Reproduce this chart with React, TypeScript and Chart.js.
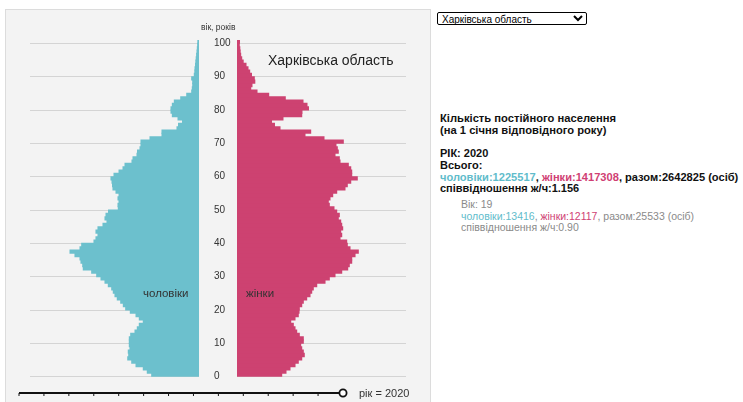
import React, { useEffect, useRef } from "react";
import { Chart, registerables } from "chart.js";

Chart.register(...registerables);

// ---------- data ----------
const AGES: number[] = Array.from({ length: 101 }, (_, i) => i);
const AGE_TICKS = [0, 10, 20, 30, 40, 50, 60, 70, 80, 90, 100];
const X_MAX = 33000;

// persons by single year of age, 0..100 (Kharkiv oblast, 1 Jan 2020)
const MALE = [
  9240, 10100, 10880, 12300, 13140, 13920, 13730, 13810, 13480, 13610,
  13610, 13610, 13340, 12500, 12050, 11660, 10880, 11660, 12300, 13416,
  14320, 14780, 15290, 15960, 16410, 16740, 17050, 17710, 18360, 19140,
  19980, 20960, 22600, 22710, 23050, 23240, 24220, 25190, 23240, 22910,
  20510, 20120, 19730, 20120, 19730, 18750, 17970, 18360, 18160, 17670,
  15760, 15820, 15620, 15820, 15620, 16210, 16800, 16890, 16990, 17190,
  16600, 15620, 14840, 14450, 13090, 12890, 12110, 12010, 11520, 11330,
  11330, 9570, 7230, 7230, 4300, 4000, 3220, 4100, 5210, 5470,
  5470, 5210, 4820, 3570, 2400, 1430, 1310, 1230, 1230, 1430,
  920, 820, 780, 680, 620, 550, 470, 390, 330, 270,
  230,
];

const FEMALE = [
  8730, 9570, 10350, 11330, 11970, 12640, 13140, 12950, 12640, 12440,
  12950, 12950, 12170, 11660, 11330, 11000, 10490, 11330, 11970, 12117,
  12170, 12640, 12950, 13610, 14260, 14590, 14900, 15570, 17190, 18030,
  19140, 20450, 21620, 21930, 22400, 22400, 23050, 23690, 22070, 21540,
  21420, 20120, 20450, 20250, 20640, 20450, 20250, 19780, 19980, 19470,
  18940, 18030, 17830, 18160, 18690, 19470, 21090, 21540, 22210, 23490,
  22400, 22400, 22210, 21740, 20120, 19980, 19140, 19780, 19590, 19330,
  20760, 16990, 13280, 14390, 8400, 7320, 6740, 8980, 12640, 12690,
  13960, 13670, 12890, 9430, 6190, 3910, 2680, 2930, 3480, 3380,
  2830, 2480, 2150, 1760, 1210, 920, 720, 620, 550, 450,
  490,
];

const SLIDER_YEARS = [2007, 2008, 2009, 2010, 2011, 2012, 2013, 2014, 2015, 2016, 2017, 2018, 2019, 2020];
const CURRENT_YEAR = 2020;

// ---------- styles ----------
const MALE_COLOR = "#6cc0cd";
const FEMALE_COLOR = "#cd4271";
const GRID_COLOR = "rgba(185,185,185,0.55)";
const FONT = "Arial, 'Liberation Sans', sans-serif";
const CW = 440;
const CH = 402;

function ageScale(extra: any) {
  return {
    type: "linear",
    min: 0,
    max: 101,
    offset: false,
    z: 1,
    afterBuildTicks: (s: any) => {
      s.ticks = AGE_TICKS.map((v) => ({ value: v }));
    },
    grid: { color: GRID_COLOR, drawTicks: false, lineWidth: 1, offset: false },
    border: { display: false },
    ...extra,
  };
}

function Pyramid() {
  const leftRef = useRef<HTMLCanvasElement>(null);
  const rightRef = useRef<HTMLCanvasElement>(null);

  useEffect(() => {
    const common = {
      indexAxis: "y" as const,
      responsive: false,
      animation: false as const,
      devicePixelRatio: 1,
      events: [],
      plugins: { legend: { display: false }, tooltip: { enabled: false } },
    };
    const barStyle = {
      borderWidth: 0,
      barPercentage: 1,
      categoryPercentage: 1,
      inflateAmount: 0.5,
    };
    const left = new Chart(leftRef.current!, {
      type: "bar",
      data: {
        datasets: [
          {
            data: MALE.map((v, i) => ({ x: v, y: AGES[i] + 0.5 })),
            backgroundColor: MALE_COLOR,
            ...barStyle,
          },
        ],
      },
      options: {
        ...common,
        layout: { padding: { left: 30, right: CW - 199, top: 40, bottom: CH - 376.67 } },
        scales: {
          x: { type: "linear", min: 0, max: X_MAX, reverse: true, display: false },
          y: ageScale({
            position: "right",
            afterFit: (s: any) => {
              s.width = 0;
            },
            ticks: { display: false },
          }),
        },
      } as any,
    });
    const right = new Chart(rightRef.current!, {
      type: "bar",
      data: {
        datasets: [
          {
            data: FEMALE.map((v, i) => ({ x: v, y: AGES[i] + 0.5 })),
            backgroundColor: FEMALE_COLOR,
            ...barStyle,
          },
        ],
      },
      options: {
        ...common,
        layout: { padding: { left: 214, right: CW - 406, top: 40, bottom: CH - 376.67 } },
        scales: {
          x: { type: "linear", min: 0, max: X_MAX, display: false },
          y: ageScale({
            position: "left",
            afterFit: (s: any) => {
              s.width = 23;
            },
            ticks: {
              display: true,
              crossAlign: "far",
              padding: 0,
              color: "#333",
              font: { size: 10, family: FONT },
              callback: (v: any) => String(v),
            },
          }),
        },
      } as any,
    });
    return () => {
      left.destroy();
      right.destroy();
    };
  }, []);

  const cStyle: React.CSSProperties = { position: "absolute", left: 0, top: 0, width: CW, height: CH };
  return (
    <>
      <canvas ref={leftRef} width={CW} height={CH} style={cStyle} />
      <canvas ref={rightRef} width={CW} height={CH} style={cStyle} />
    </>
  );
}

function T(props: {
  x: number;
  y: number;
  size: number;
  color?: string;
  bold?: boolean;
  children: React.ReactNode;
}) {
  const lh = 14;
  return (
    <div
      style={{
        position: "absolute",
        left: props.x,
        top: props.y - lh / 2,
        lineHeight: `${lh}px`,
        fontSize: props.size,
        fontFamily: FONT,
        fontWeight: props.bold ? "bold" : "normal",
        color: props.color || "#222",
        whiteSpace: "nowrap",
      }}
    >
      {props.children}
    </div>
  );
}

function Slider() {
  const x0 = 19;
  const x1 = 343;
  const y = 393;
  const step = (x1 - x0) / (SLIDER_YEARS.length - 1);
  const idx = SLIDER_YEARS.indexOf(CURRENT_YEAR);
  return (
    <svg
      width={CW}
      height={CH}
      style={{ position: "absolute", left: 0, top: 0, overflow: "visible" }}
    >
      <line x1={x0} y1={y} x2={x1} y2={y} stroke="#111" strokeWidth={2} />
      {SLIDER_YEARS.map((yr, i) => (
        <line key={yr} x1={x0 + i * step} y1={y} x2={x0 + i * step} y2={y + 3} stroke="#111" strokeWidth={1} />
      ))}
      <circle cx={x0 + idx * step} cy={y} r={3.6} fill="#fff" stroke="#111" strokeWidth={1.8} />
    </svg>
  );
}

export default function App() {
  const teal = "#5fbccb";
  const pink = "#d03f74";
  const gray = "#8a8a8a";
  return (
    <div
      style={{
        position: "absolute",
        left: 0,
        top: 0,
        width: 743,
        height: 402,
        overflow: "hidden",
        background: "#fff",
        fontFamily: FONT,
      }}
    >
      <div
        style={{
          position: "absolute",
          left: 5,
          top: 9,
          width: 424,
          height: 420,
          background: "#f3f3f3",
          border: "1px solid #dcdcdc",
        }}
      />
      <Pyramid />
      <Slider />
      <T x={201} y={27} size={8.5} color="#333">вік, років</T>
      <T x={268} y={60} size={14} color="#222">Харківська область</T>
      <T x={143} y={293} size={11.5} color="#333">чоловіки</T>
      <T x={246} y={293} size={11.5} color="#333">жінки</T>
      <T x={359} y={393} size={11} color="#333">рік = {CURRENT_YEAR}</T>

      <select
        defaultValue="kh"
        style={{
          position: "absolute",
          left: 437,
          top: 12,
          width: 150,
          height: 13,
          fontSize: 10,
          fontFamily: FONT,
          padding: 0,
          border: "1px solid #000",
          borderRadius: 2,
          background: "#fff",
          boxSizing: "border-box",
        }}
      >
        <option value="kh">Харківська область</option>
      </select>

      <T x={440} y={118} size={11.2} bold color="#111">Кількість постійного населення</T>
      <T x={440} y={130} size={11.2} bold color="#111">(на 1 січня відповідного року)</T>
      <T x={440} y={153} size={11} bold color="#111">РІК: 2020</T>
      <T x={440} y={165} size={11} bold color="#111">Всього:</T>
      <T x={440} y={177} size={11.1} bold color="#111">
        <span style={{ color: teal }}>чоловіки:1225517</span>,{" "}
        <span style={{ color: pink }}>жінки:1417308</span>, разом:2642825 (осіб)
      </T>
      <T x={440} y={188} size={11} bold color="#111">співвідношення ж/ч:1.156</T>

      <T x={461} y={204} size={10.5} color={gray}>Вік: 19</T>
      <T x={461} y={216} size={10.5} color={gray}>
        <span style={{ color: teal }}>чоловіки:13416</span>,{" "}
        <span style={{ color: pink }}>жінки:12117</span>, разом:25533 (осіб)
      </T>
      <T x={461} y={227} size={10.5} color={gray}>співвідношення ж/ч:0.90</T>
    </div>
  );
}
